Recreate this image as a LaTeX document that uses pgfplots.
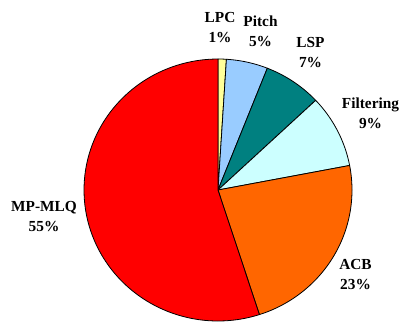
\documentclass[border=0pt]{standalone}
\usepackage{pgfplots}
\pgfplotsset{compat=1.18}
\usepackage{fontspec}
\setmainfont{Liberation Serif}

% shares in percent, clockwise from twelve o'clock
\def\pLPC{1}
\def\pPitch{5}
\def\pLSP{7}
\def\pFilt{9}
\def\pACB{23}
\def\pMP{55}

\definecolor{cLPC}{HTML}{FFFF99}
\definecolor{cPitch}{HTML}{99CCFF}
\definecolor{cLSP}{HTML}{008080}
\definecolor{cFilt}{HTML}{CCFFFF}
\definecolor{cACB}{HTML}{FF6600}
\definecolor{cMP}{HTML}{FF0000}

\tikzset{lab/.style={font=\bfseries\fontsize{11.5}{15}\selectfont, align=center, inner sep=0pt}}

\begin{document}
\begin{tikzpicture}
% slice boundaries (degrees)
\pgfmathsetmacro\aA{90}
\pgfmathsetmacro\aB{\aA-3.6*\pLPC}
\pgfmathsetmacro\aC{\aB-3.6*\pPitch}
\pgfmathsetmacro\aD{\aC-3.6*\pLSP}
\pgfmathsetmacro\aE{\aD-3.6*\pFilt}
\pgfmathsetmacro\aF{\aE-3.6*\pACB}
\pgfmathsetmacro\aG{\aF-3.6*\pMP}
\begin{axis}[
  width=299.25pt, height=241.5pt, scale only axis,
  xmin=0, xmax=399, ymin=0, ymax=322, y dir=reverse,
  hide axis, clip=false,
]
\pgfplotsset{slice/.style={draw=black, line width=0.6pt, line join=round, samples=120, variable=\t}}
\addplot[slice, fill=cLPC,   domain=\aB:\aA] ({218+134*cos(t)},{190-131*sin(t)}) -- (218,190) -- cycle;
\addplot[slice, fill=cPitch, domain=\aC:\aB] ({218+134*cos(t)},{190-131*sin(t)}) -- (218,190) -- cycle;
\addplot[slice, fill=cLSP,   domain=\aD:\aC] ({218+134*cos(t)},{190-131*sin(t)}) -- (218,190) -- cycle;
\addplot[slice, fill=cFilt,  domain=\aE:\aD] ({218+134*cos(t)},{190-131*sin(t)}) -- (218,190) -- cycle;
\addplot[slice, fill=cACB,   domain=\aF:\aE] ({218+134*cos(t)},{190-131*sin(t)}) -- (218,190) -- cycle;
\addplot[slice, fill=cMP,    domain=\aG:\aF] ({218+134*cos(t)},{190-131*sin(t)}) -- (218,190) -- cycle;

\node[lab] at (220,27.9)   {LPC\\1\%};
\node[lab] at (260.5,31)   {Pitch\\5\%};
\node[lab] at (310.5,52.3) {LSP\\7\%};
\node[lab] at (370.5,113.5){Filtering\\9\%};
\node[lab] at (355.5,275)  {ACB\\23\%};
\node[lab] at (44,217)     {MP-MLQ\\55\%};

\coordinate (bl) at (0,322);
\coordinate (tr) at (399,0);
\end{axis}
\pgfresetboundingbox
\path (bl) rectangle (tr);
\end{tikzpicture}
\end{document}
